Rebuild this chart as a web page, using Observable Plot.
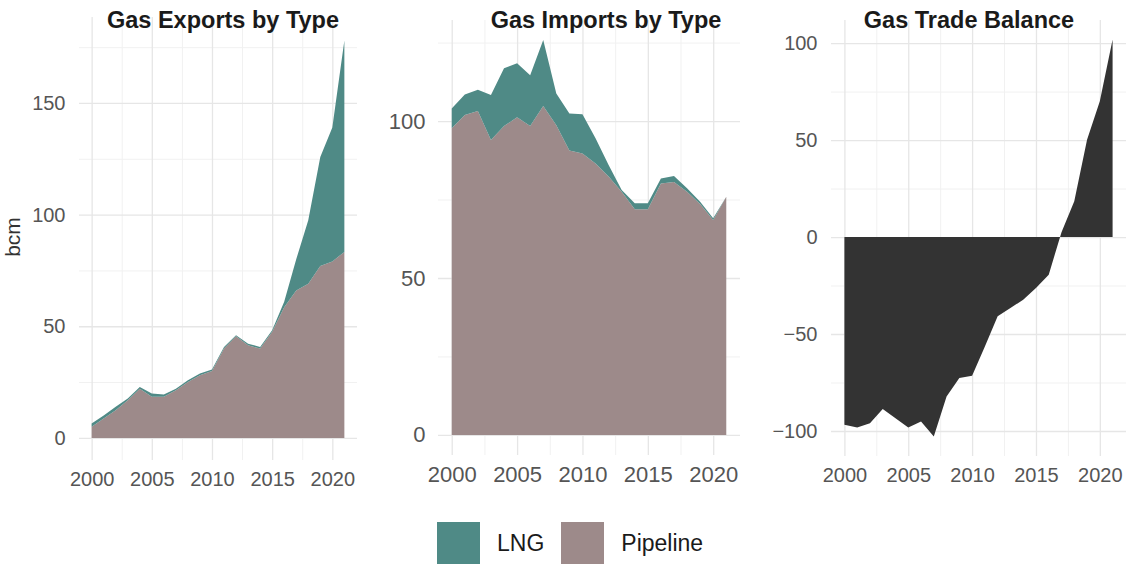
<!DOCTYPE html>
<html>
<head>
<meta charset="utf-8">
<script src="https://cdn.jsdelivr.net/npm/d3@7"></script>
<script src="https://cdn.jsdelivr.net/npm/@observablehq/plot@0.6"></script>
<style>
  html, body { margin: 0; padding: 0; background: #fff; }
  #root { position: relative; width: 1126px; height: 564px; overflow: hidden; font-family: "Liberation Sans", Arial, sans-serif; }
  .panel { position: absolute; top: 0; }
  .title { position: absolute; font-weight: bold; font-size: 23.5px; color: #1a1a1a; white-space: nowrap; transform: translateX(-50%); line-height: 1; }
  .legend { position: absolute; display: flex; align-items: center; font-size: 23px; color: #1a1a1a; }
  .sw { width: 43px; height: 42px; display: inline-block; }
</style>
</head>
<body>
<div id="root"></div>
<script>
const years = [2000,2001,2002,2003,2004,2005,2006,2007,2008,2009,2010,2011,2012,2013,2014,2015,2016,2017,2018,2019,2020,2021];
const exportsPipeline = [5, 8.7, 12.4, 16.9, 22, 18.4, 18.4, 21.3, 25, 28, 30, 40, 45.5, 41.5, 40, 47.5, 58.5, 66, 69, 77, 79, 83.3];
const exportsLNG = [1.4, 1.3, 1.6, 0.7, 0.8, 1.5, 1, 0.7, 0.8, 0.8, 0.6, 0.7, 0.5, 0.7, 0.7, 0.7, 2.5, 14, 28.5, 48.8, 60, 94.7];
const importsPipeline = [97.7, 101.9, 103.2, 94, 98.4, 101.2, 98.4, 104.8, 98.7, 90.6, 89.7, 86.5, 82.3, 77.5, 71.9, 71.9, 80.1, 80.6, 77.5, 73.6, 68.5, 75.9];
const importsLNG = [6.3, 6.6, 6.8, 14.3, 18.4, 17.2, 16.2, 21, 10.1, 11.8, 12.5, 8, 3.7, 0.5, 1.9, 1.9, 1.6, 1.9, 1.1, 0.7, 0.5, 0];
const balance = [-96.8, -98.2, -96, -88.7, -93.4, -98.2, -95.1, -102.8, -82.2, -72.7, -71.5, -56.4, -40.9, -36.6, -32.3, -26.3, -19.4, 2.5, 18.4, 50.2, 70, 101.8];

const types = ["LNG", "Pipeline"];
const typeColors = ["#4f8a86", "#9d8a8a"];
const balanceColor = "#333333";
const titles = ["Gas Exports by Type", "Gas Imports by Type", "Gas Trade Balance"];
const yLabel = "bcm";
const xTicks = [2000, 2005, 2010, 2015, 2020];
const xMinor = [2002.5, 2007.5, 2012.5, 2017.5];
const exportTicks = [0, 50, 100, 150];
const exportMinor = [25, 75, 125, 175];
const importTicks = [0, 50, 100];
const importMinor = [25, 75, 125];
const balanceTicks = [-100, -50, 0, 50, 100];
const balanceMinor = [-75, -25, 25, 75];

const stackRows = (pipe, lng) => years.flatMap((yr, i) => [
  {year: yr, type: "Pipeline", value: pipe[i]},
  {year: yr, type: "LNG", value: lng[i]}
]);
const exportRows = stackRows(exportsPipeline, exportsLNG);
const importRows = stackRows(importsPipeline, importsLNG);
const balanceRows = years.map((yr, i) => ({year: yr, value: balance[i]}));

const root = document.getElementById("root");
const font = '"Liberation Sans", Arial, sans-serif';
const gridMajor = "#e6e6e6", gridMinor = "#f1f1f1";

function grid(yMajor, yMinor) {
  return [
    Plot.ruleX(xMinor, {stroke: gridMinor, strokeWidth: 1}),
    Plot.ruleY(yMinor, {stroke: gridMinor, strokeWidth: 1}),
    Plot.ruleX(xTicks, {stroke: gridMajor, strokeWidth: 1.3}),
    Plot.ruleY(yMajor, {stroke: gridMajor, strokeWidth: 1.3})
  ];
}

function place(svg, left) {
  const d = document.createElement("div");
  d.className = "panel";
  d.style.left = left + "px";
  d.appendChild(svg);
  root.appendChild(d);
}

const colorScale = {domain: types, range: typeColors};

// Panel 1: exports
place(Plot.plot({
  width: 360, height: 495,
  marginLeft: 79, marginRight: 3, marginTop: 17, marginBottom: 35,
  style: {fontSize: "20px", fontFamily: font, color: "#555", background: "transparent"},
  x: {domain: [1998.95, 2022.05], ticks: xTicks, tickSize: 0, tickPadding: 11, tickFormat: d => String(d), label: null},
  y: {domain: [-9.9, 188.5], ticks: exportTicks, tickSize: 0, tickPadding: 14, label: null},
  color: colorScale,
  marks: [
    ...grid(exportTicks, exportMinor),
    Plot.areaY(exportRows, {x: "year", y: "value", fill: "type", z: "type", order: ["Pipeline", "LNG"]})
  ]
}), 0);

// Panel 2: imports
place(Plot.plot({
  width: 375, height: 495,
  marginLeft: 68, marginRight: 5, marginTop: 20, marginBottom: 40,
  style: {fontSize: "22px", fontFamily: font, color: "#555", background: "transparent"},
  x: {domain: [1998.95, 2022.05], ticks: xTicks, tickSize: 0, tickPadding: 11, tickFormat: d => String(d), label: null},
  y: {domain: [-6.4, 132.2], ticks: importTicks, tickSize: 0, tickPadding: 13, label: null},
  color: colorScale,
  marks: [
    ...grid(importTicks, importMinor),
    Plot.areaY(importRows, {x: "year", y: "value", fill: "type", z: "type", order: ["Pipeline", "LNG"]})
  ]
}), 370);

// Panel 3: balance
place(Plot.plot({
  width: 376, height: 495,
  marginLeft: 81, marginRight: 0, marginTop: 20, marginBottom: 39,
  style: {fontSize: "20px", fontFamily: font, color: "#555", background: "transparent"},
  x: {domain: [1998.95, 2022.05], ticks: xTicks, tickSize: 0, tickPadding: 11, tickFormat: d => String(d), label: null},
  y: {domain: [-112.9, 111.9], ticks: balanceTicks, tickSize: 0, tickPadding: 14, label: null},
  marks: [
    ...grid(balanceTicks, balanceMinor),
    Plot.areaY(balanceRows, {x: "year", y1: 0, y2: "value", fill: balanceColor})
  ]
}), 750);

// Titles
const titleX = [223, 606, 969];
titles.forEach((t, i) => {
  const el = document.createElement("div");
  el.className = "title";
  el.textContent = t;
  el.style.left = titleX[i] + "px";
  el.style.top = "9px";
  root.appendChild(el);
});

// y-axis label, rotated, at the left edge
const ylt = document.createElement("div");
ylt.textContent = yLabel;
ylt.style.cssText = "position:absolute;left:2px;top:237px;font-size:21px;color:#333;white-space:nowrap;transform-origin:0 0;transform:rotate(-90deg) translate(-50%, 0);line-height:1;";
root.appendChild(ylt);

// Legend
const lg = document.createElement("div");
lg.className = "legend";
lg.style.left = "437px";
lg.style.top = "522px";
types.forEach((t, i) => {
  const sw = document.createElement("span");
  sw.className = "sw";
  sw.style.background = typeColors[i];
  const tx = document.createElement("span");
  tx.textContent = t;
  tx.style.margin = i === 0 ? "0 17px 0 17px" : "0 0 0 17px";
  lg.appendChild(sw);
  lg.appendChild(tx);
});
root.appendChild(lg);
</script>
</body>
</html>
